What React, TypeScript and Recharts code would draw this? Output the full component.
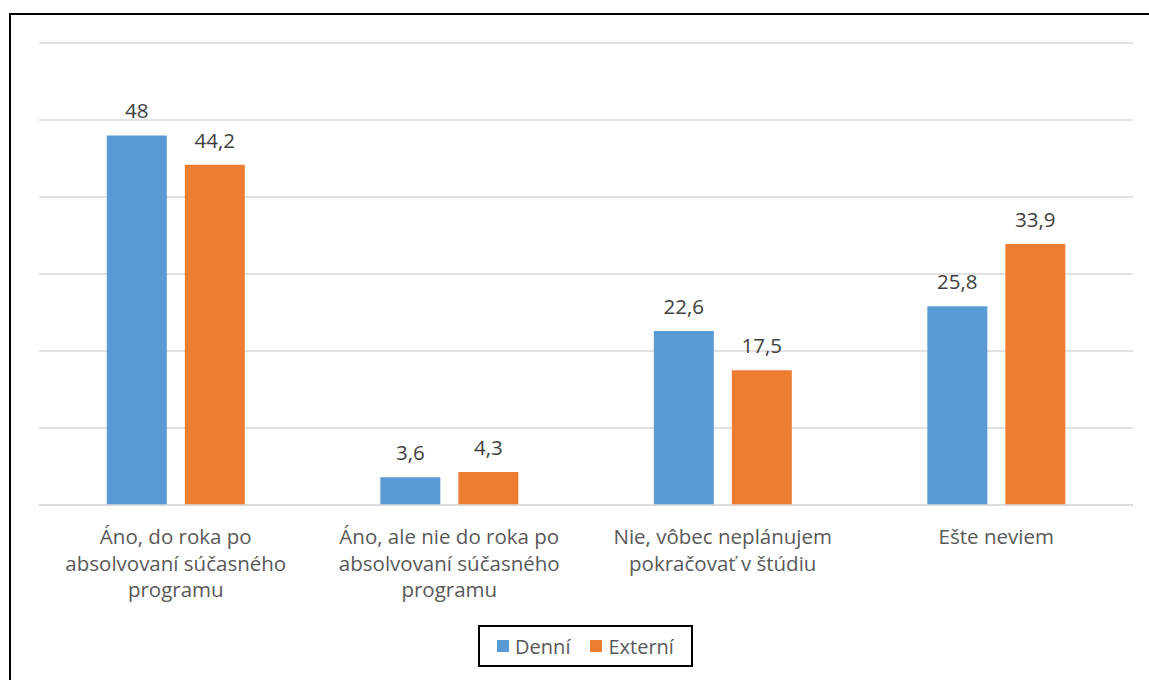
import { BarChart, Bar, XAxis, YAxis, CartesianGrid, LabelList } from 'recharts';

const categories = [
    'Áno, do roka po\nabsolvovaní súčasného\nprogramu',
    'Áno, ale nie do roka po\nabsolvovaní súčasného\nprogramu',
    'Nie, vôbec neplánujem\npokračovať v štúdiu',
    'Ešte neviem',
];
const denni = [48, 3.6, 22.6, 25.8];
const externi = [44.2, 4.3, 17.5, 33.9];
const yTicks = [0, 10, 20, 30, 40, 50, 60];

const data = categories.map((name, i) => ({ name, denni: denni[i], externi: externi[i] }));

const FONT = '"Open Sans", sans-serif';

function CategoryTick({ x, y, payload }: any) {
    const lines = String(payload.value).split('\n');
    return (
        <text x={x} y={y} textAnchor="middle" fill="#595959" fontSize={20.5} fontFamily={FONT}>
            {lines.map((line, i) => (
                <tspan key={i} x={x} dy={i === 0 ? 31 : 26.5}>
                    {line}
                </tspan>
            ))}
        </text>
    );
}

const fmt = (v: any) => String(v).replace('.', ',');

export default function App() {
    return (
        <div style={{ position: 'absolute', left: 0, top: 0, width: 1149, height: 680, background: '#fff', overflow: 'hidden' }}>
            <div
                style={{
                    position: 'absolute',
                    left: 9,
                    top: 13,
                    width: 1200,
                    height: 700,
                    borderLeft: '2px solid #000',
                    borderTop: '2px solid #000',
                }}
            />
            <div style={{ position: 'absolute', left: 0, top: 0 }}>
                <BarChart
                    width={1149}
                    height={680}
                    data={data}
                    margin={{ top: 43, right: 16, left: 39, bottom: 75 }}
                    barGap={18}
                    barCategoryGap="24.8%"
                >
                    <CartesianGrid vertical={false} stroke="#d9d9d9" strokeWidth={1.5} />
                    <XAxis
                        dataKey="name"
                        axisLine={{ stroke: '#d9d9d9', strokeWidth: 1.5 }}
                        tickLine={false}
                        interval={0}
                        height={100}
                        tick={<CategoryTick />}
                    />
                    <YAxis hide domain={[0, 60]} ticks={yTicks} />
                    <Bar dataKey="denni" name="Denní" fill="#5B9BD5" isAnimationActive={false}>
                        <LabelList dataKey="denni" position="top" offset={17} formatter={fmt} fill="#404040" fontSize={20.5} fontFamily={FONT} />
                    </Bar>
                    <Bar dataKey="externi" name="Externí" fill="#ED7D31" isAnimationActive={false}>
                        <LabelList dataKey="externi" position="top" offset={17} formatter={fmt} fill="#404040" fontSize={20.5} fontFamily={FONT} />
                    </Bar>
                </BarChart>
            </div>
            <div
                style={{
                    position: 'absolute',
                    left: 478,
                    top: 625,
                    width: 215,
                    height: 42,
                    border: '2px solid #000',
                    boxSizing: 'border-box',
                    display: 'flex',
                    alignItems: 'center',
                    justifyContent: 'center',
                    gap: 20,
                    fontFamily: FONT,
                    fontSize: 20,
                    color: '#595959',
                }}
            >
                <span style={{ display: 'flex', alignItems: 'center' }}>
                    <span style={{ width: 12, height: 12, background: '#5B9BD5', marginRight: 6 }} />
                    Denní
                </span>
                <span style={{ display: 'flex', alignItems: 'center' }}>
                    <span style={{ width: 12, height: 12, background: '#ED7D31', marginRight: 6 }} />
                    Externí
                </span>
            </div>
        </div>
    );
}
